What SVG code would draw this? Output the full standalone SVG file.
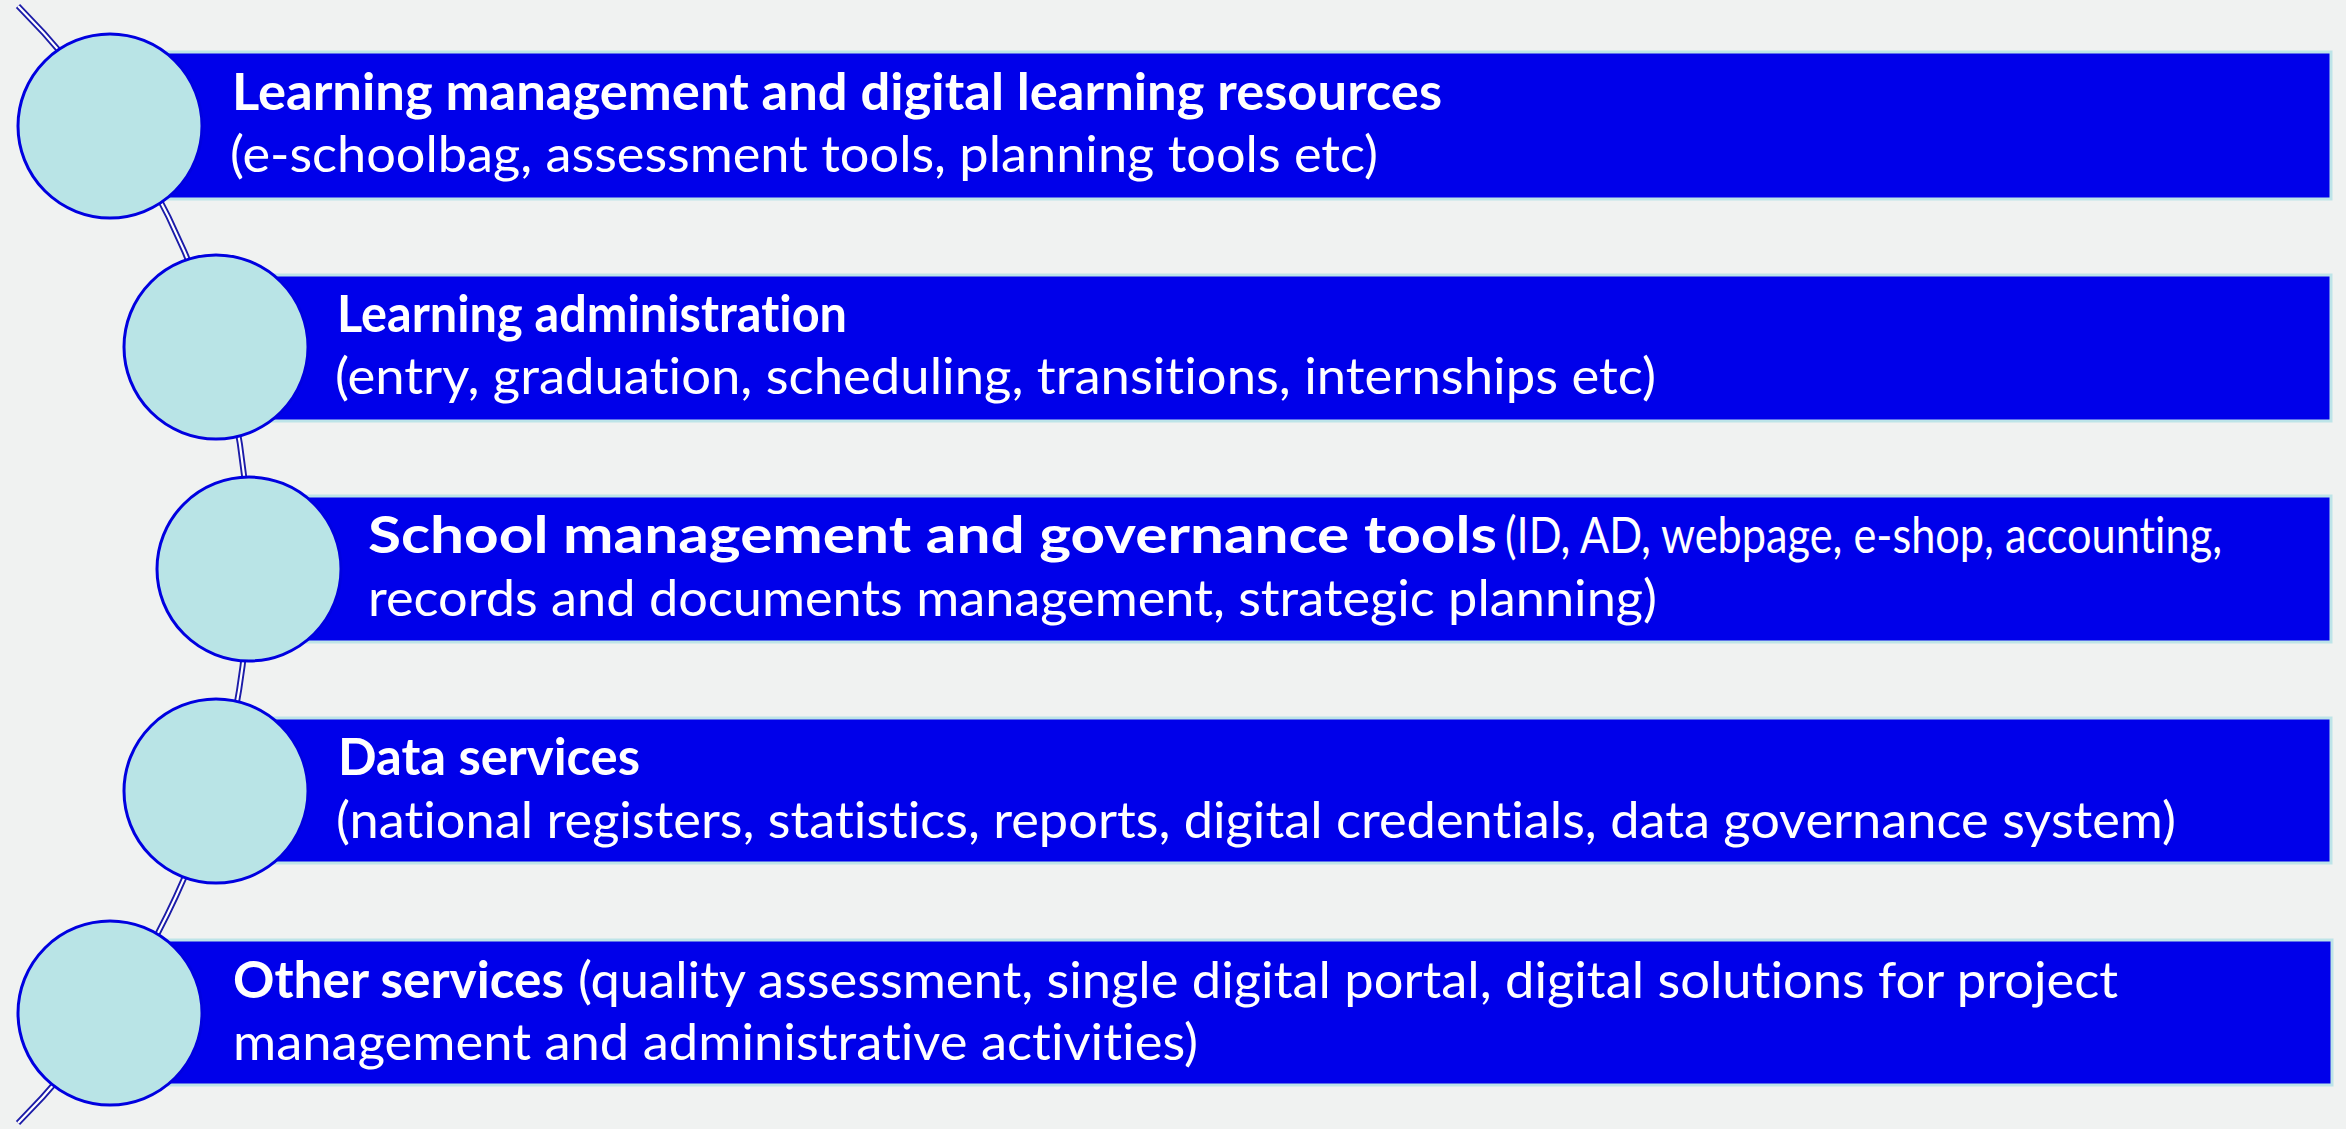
<svg xmlns="http://www.w3.org/2000/svg" width="2346" height="1129" viewBox="0 0 2346 1129">
<style>
.bar{fill:#0000EA;stroke:#BDE4E8;stroke-width:3}
.dot{fill:#B9E4E6;stroke:#0000E0;stroke-width:3}
.t{font-family:Lato,"Open Sans","Liberation Sans",sans-serif;font-size:51px;fill:#FFFFFF;font-variant-ligatures:none;font-feature-settings:"liga" 0,"clig" 0}
.b{font-weight:bold}
.arcOut{fill:none;stroke:#1C1CA8;stroke-width:6}
.arcIn{fill:none;stroke:#FFFFFF;stroke-width:2.2}
</style>
<rect x="0" y="0" width="2346" height="1129" fill="#F0F2F1"/>
<g id="connectors">
<path class="arcOut" d="M18 6 A790.7 790.7 0 0 1 18 1123"/>
<path class="arcIn" d="M18 6 A790.7 790.7 0 0 1 18 1123"/>
</g>
<g id="node1">
<rect class="bar" x="110" y="52" width="2221" height="147"/>
<circle class="dot" cx="110" cy="126" r="92"/>
<text class="t b" x="232" y="110" textLength="1210" lengthAdjust="spacingAndGlyphs">Learning management and digital learning resources</text>
<text class="t" x="230" y="172" textLength="1148" lengthAdjust="spacingAndGlyphs">(e-schoolbag, assessment tools, planning tools etc)</text>
</g>
<g id="node2">
<rect class="bar" x="216" y="275" width="2115" height="146"/>
<circle class="dot" cx="216" cy="347" r="92"/>
<text class="t b" x="337" y="332" textLength="510" lengthAdjust="spacingAndGlyphs">Learning administration</text>
<text class="t" x="335" y="394" textLength="1321" lengthAdjust="spacingAndGlyphs">(entry, graduation, scheduling, transitions, internships etc)</text>
</g>
<g id="node3">
<rect class="bar" x="249" y="496" width="2082" height="146"/>
<circle class="dot" cx="249" cy="569" r="92"/>
<text class="t b" x="368" y="553" textLength="1129" lengthAdjust="spacingAndGlyphs">School management and governance tools</text>
<text class="t" x="1505" y="553" textLength="717" lengthAdjust="spacingAndGlyphs">(ID, AD, webpage, e-shop, accounting,</text>
<text class="t" x="368" y="616" textLength="1289" lengthAdjust="spacingAndGlyphs">records and documents management, strategic planning)</text>
</g>
<g id="node4">
<rect class="bar" x="216" y="718" width="2115" height="145"/>
<circle class="dot" cx="216" cy="791" r="92"/>
<text class="t b" x="338" y="775" textLength="302" lengthAdjust="spacingAndGlyphs">Data services</text>
<text class="t" x="336" y="838" textLength="1840" lengthAdjust="spacingAndGlyphs">(national registers, statistics, reports, digital credentials, data governance system)</text>
</g>
<g id="node5">
<rect class="bar" x="110" y="940" width="2222" height="145"/>
<circle class="dot" cx="110" cy="1013" r="92"/>
<text class="t b" x="233" y="998" textLength="331" lengthAdjust="spacingAndGlyphs">Other services</text>
<text class="t" x="578" y="998" textLength="1540" lengthAdjust="spacingAndGlyphs">(quality assessment, single digital portal, digital solutions for project</text>
<text class="t" x="233" y="1060" textLength="965" lengthAdjust="spacingAndGlyphs">management and administrative activities)</text>
</g>
</svg>
